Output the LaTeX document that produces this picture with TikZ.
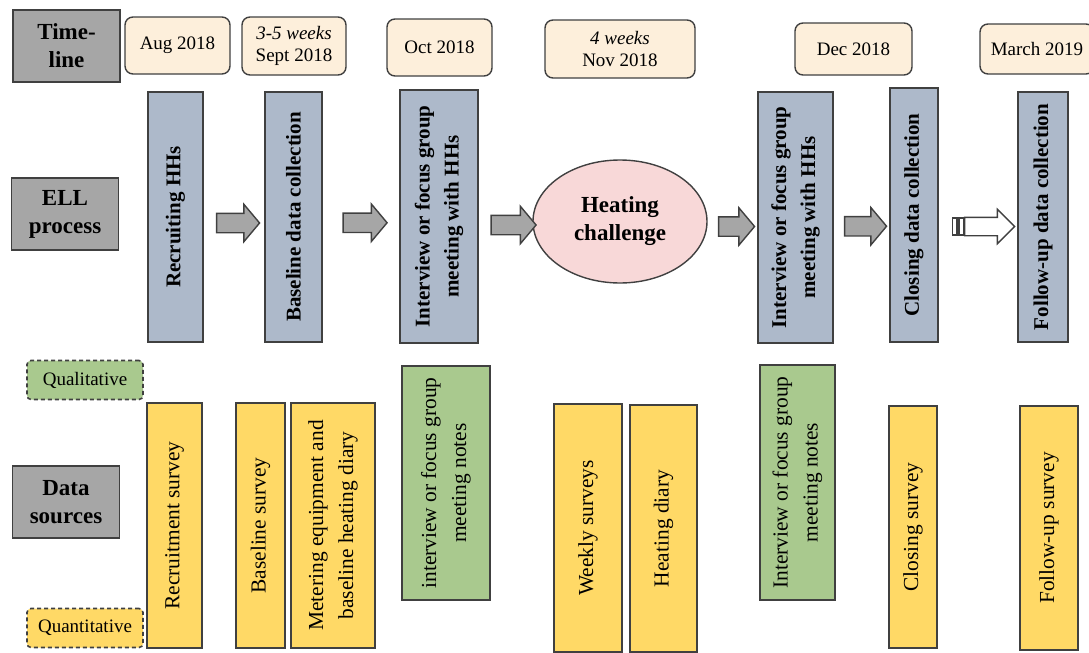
\documentclass[tikz,border=0pt]{standalone}
\usepackage{fontspec}
\setmainfont{Liberation Serif}
\usetikzlibrary{shapes.geometric,shapes.arrows,calc}

\definecolor{headgray}{HTML}{A6A6A6}
\definecolor{barblue}{HTML}{ADB9CA}
\definecolor{cream}{HTML}{FDEFDB}
\definecolor{pinkfill}{HTML}{F8D8D8}
\definecolor{quanyellow}{HTML}{FFD966}
\definecolor{qualgreen}{HTML}{A9C98E}
\definecolor{edge}{HTML}{404040}

\begin{document}
\begin{tikzpicture}[x=0.5pt,y=-0.5pt,
    every node/.style={inner sep=0pt,outer sep=0pt},
    header/.style={draw=edge,fill=headgray,line width=0.8pt,minimum width=53.5pt,minimum height=36pt,align=center,font=\fontsize{11.5}{14}\selectfont\bfseries},
    when/.style={draw=edge,fill=cream,rounded corners=4pt,line width=0.7pt,align=center,font=\fontsize{9.5}{11}\selectfont},
    stage/.style={draw=edge,fill=barblue,line width=0.7pt,rotate=90,align=center,font=\fontsize{10.5}{14.5}\selectfont\bfseries},
    quan/.style={draw=edge,fill=quanyellow,line width=0.7pt,rotate=90,align=center,font=\fontsize{10.7}{15}\selectfont},
    qual/.style={quan,fill=qualgreen},
    legend/.style={draw=edge,dash pattern=on 2pt off 1.5pt,rounded corners=2pt,line width=0.8pt,minimum width=58pt,minimum height=19.5pt,font=\fontsize{9.5}{11}\selectfont},
    garrow/.style={single arrow,draw=edge,fill=headgray,line width=0.7pt,inner xsep=0pt,inner ysep=4.5pt,single arrow head extend=4.5pt,single arrow tip angle=100,minimum height=21.5pt},
]
\useasboundingbox (0,0) rectangle (1089,653);

% row headers
\node[header] (hTime) at (66.5,46) {Time-\\line};
\node[header] (hEll) at (65,214) {ELL\\process};
\node[header] (hData) at (66,502) {Data\\sources};

% time line
\node[when,minimum width=52.5pt,minimum height=28.5pt] (tAug) at (177.5,45.5) {Aug 2018};
\node[when,minimum width=52pt,minimum height=29pt] (tSep) at (294,46) {\textit{3-5 weeks}\\Sept 2018};
\node[when,minimum width=52.5pt,minimum height=28.5pt] (tOct) at (439.5,47.5) {Oct 2018};
\node[when,minimum width=75pt,minimum height=29pt] (tNov) at (620,49) {\textit{4 weeks}\\Nov 2018};
\node[when,minimum width=58.5pt,minimum height=26pt] (tDec) at (853.5,49) {Dec 2018};
\node[when,minimum width=57pt,minimum height=25pt] (tMar) at (1037,49) {March 2019};

% ELL process (rotated: north = left side, south = right side)
\node[stage,minimum width=125pt,minimum height=27.5pt] (pRec) at (175.5,217) {Recruiting HHs};
\node[stage,minimum width=125pt,minimum height=28.5pt] (pBase) at (293.5,217) {Baseline data collection};
\node[stage,minimum width=126.5pt,minimum height=39pt] (pInt1) at (439,216.5) {Interview or focus group\\meeting with HHs};
\node[ellipse,draw=edge,fill=pinkfill,line width=0.7pt,minimum width=87pt,minimum height=61.5pt,align=center,font=\fontsize{11.5}{14}\selectfont\bfseries] (heat) at (620,221.5) {Heating\\challenge};
\node[stage,minimum width=125.5pt,minimum height=37.5pt] (pInt2) at (795.5,217.5) {Interview or focus group\\meeting with HHs};
\node[stage,minimum width=127pt,minimum height=24pt] (pClose) at (914,215) {Closing data collection};
\node[stage,minimum width=125pt,minimum height=25pt] (pFollow) at (1043,217) {Follow-up data collection};

\path ($(pRec.south)!0.5!(pBase.north)$) ++(0,6) node[garrow] (a1) {};
\path ($(pBase.south)!0.5!(pInt1.north)$) ++(0,6) node[garrow,minimum height=22pt] (a2) {};
\path ($(pInt1.south)!0.5!(heat.west)$) ++(4,6) node[garrow,minimum height=22.5pt] (a3) {};
\path ($(heat.east)!0.5!(pInt2.north)$) ++(0,7) node[garrow,minimum height=18pt] (a4) {};
\path ($(pInt2.south)!0.5!(pClose.north)$) ++(0,10) node[garrow,minimum height=21pt] (a5) {};
\path ($(pClose.south)!0.5!(pFollow.north)$) ++(7,10.5) node[garrow,fill=white,inner ysep=4.25pt,single arrow head extend=4pt,single arrow tip angle=90,minimum height=25pt] (a6) {};
\draw[draw=edge,fill=white,line width=0.7pt] ($(a6.tail)+(-12,-8.5)$) rectangle ++(4.5,17);
\draw[draw=edge,fill=white,line width=0.7pt] ($(a6.tail)+(-5.5,-8.5)$) rectangle ++(4.5,17);

% data sources
\node[legend,fill=qualgreen] (lQual) at (85,380) {Qualitative};
\node[legend,fill=quanyellow] (lQuan) at (85,628) {Quantitative};

\node[quan,minimum width=122.5pt,minimum height=27.5pt] (dRec) at (174.5,525.5) {Recruitment survey};
\node[quan,minimum width=122.5pt,minimum height=24.5pt] (dBase) at (260.5,525.5) {Baseline survey};
\node[quan,minimum width=122.5pt,minimum height=42pt] (dMeter) at (333,525.5) {Metering equipment and\\baseline heating diary};
\node[qual,minimum width=117pt,minimum height=44pt] (dInt1) at (446,483) {interview or focus group\\meeting notes};
\node[quan,minimum width=124pt,minimum height=34pt] (dWeek) at (588,528) {Weekly surveys};
\node[quan,minimum width=123.5pt,minimum height=33.5pt] (dDiary) at (663.5,528.5) {Heating diary};
\node[qual,minimum width=117.5pt,minimum height=37.5pt] (dInt2) at (797.5,482.5) {Interview or focus group\\meeting notes};
\node[quan,minimum width=121pt,minimum height=24pt] (dClose) at (913,527) {Closing survey};
\node[quan,minimum width=122pt,minimum height=29pt] (dFollow) at (1049,528) {Follow-up survey};
\end{tikzpicture}
\end{document}
